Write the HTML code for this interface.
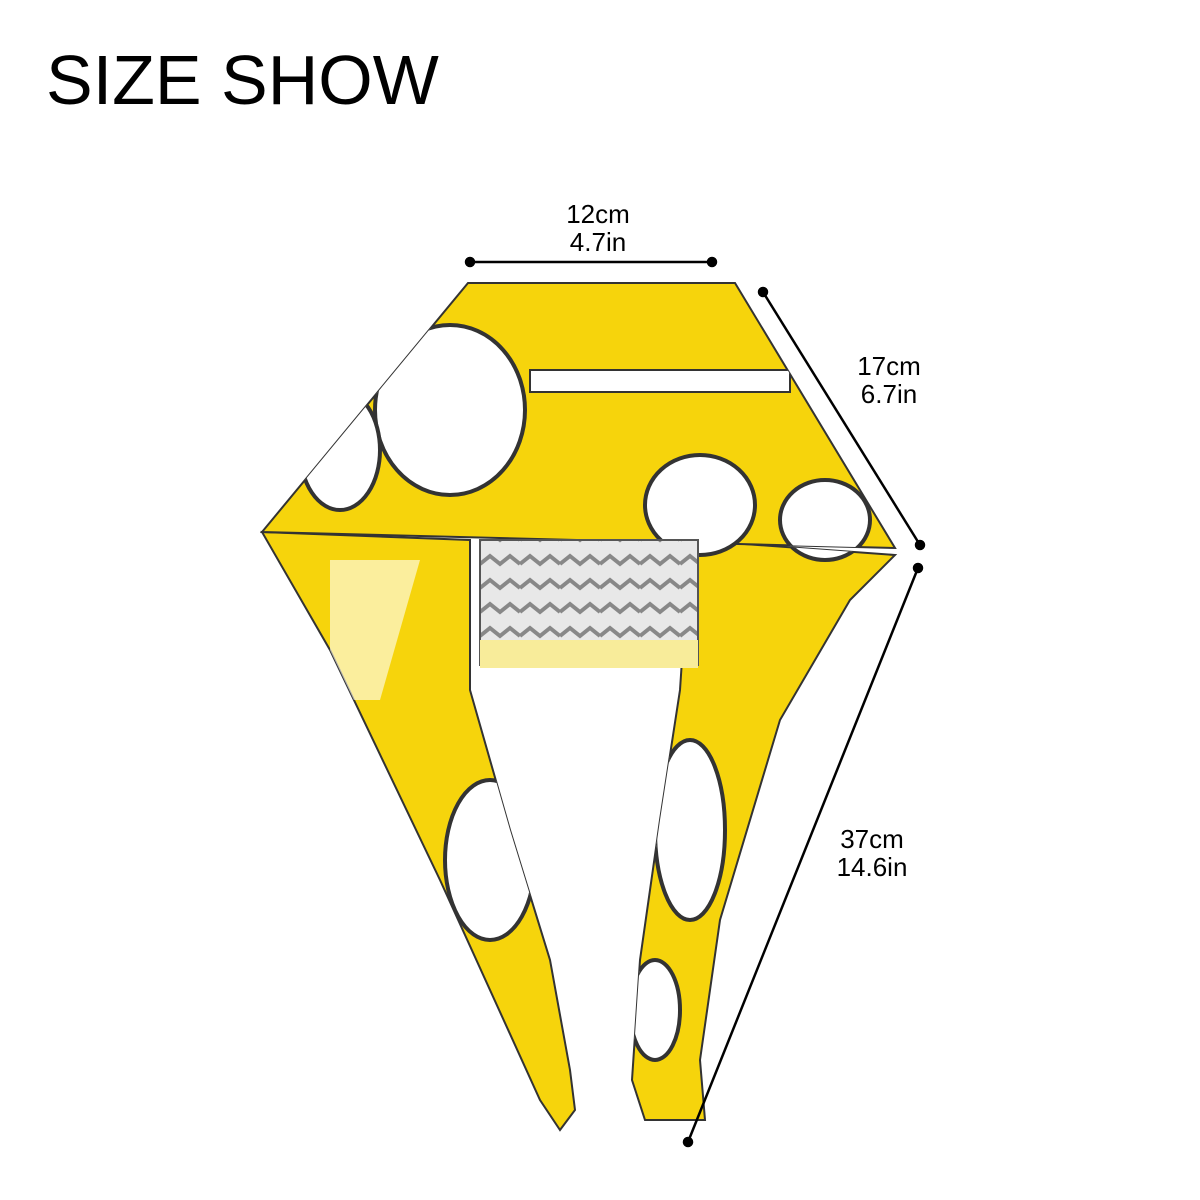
<!DOCTYPE html>
<html><head><meta charset="utf-8"><style>
html,body{margin:0;padding:0;background:#fff;}
body{width:1200px;height:1200px;position:relative;overflow:hidden;font-family:"Liberation Sans",Arial,sans-serif;}
.t{position:absolute;color:#000;}
</style></head><body>
<div class="t" style="left:46px;top:40px;font-size:70px;line-height:80px;">SIZE SHOW</div>
<svg width="1200" height="1200" style="position:absolute;left:0;top:0">
<defs>
<pattern id="zz" width="40" height="24" patternUnits="userSpaceOnUse">
<rect width="40" height="24" fill="#e8e8e8"/>
<polyline points="0,12 10,4 20,12 30,4 40,12" fill="none" stroke="#888" stroke-width="4"/>
</pattern>
<clipPath id="c">
<polygon points="468,283 735,283 895,548 262,532"/>
<polygon points="262,532 470,540 470,690 510,830 550,960 570,1070 575,1110 560,1130 540,1100 440,880 330,650"/>
<polygon points="895,555 690,540 680,690 660,820 640,960 632,1080 645,1120 705,1120 700,1060 720,920 780,720 850,600"/>
</clipPath>
</defs>
<g stroke="#333" stroke-width="2" fill="#f6d40c">
<polygon points="262,532 470,540 470,690 510,830 550,960 570,1070 575,1110 560,1130 540,1100 440,880 330,650"/>
<polygon points="895,555 690,540 680,690 660,820 640,960 632,1080 645,1120 705,1120 700,1060 720,920 780,720 850,600"/>
<polygon points="468,283 735,283 895,548 262,532"/>
</g>
<g clip-path="url(#c)" fill="#fff" stroke="#333" stroke-width="4">
<ellipse cx="450" cy="410" rx="75" ry="85"/>
<ellipse cx="340" cy="450" rx="40" ry="60"/>
<ellipse cx="700" cy="505" rx="55" ry="50"/>
<ellipse cx="825" cy="520" rx="45" ry="40"/>
<ellipse cx="490" cy="860" rx="45" ry="80"/>
<ellipse cx="690" cy="830" rx="35" ry="90"/>
<ellipse cx="655" cy="1010" rx="25" ry="50"/>
<rect x="530" y="370" width="260" height="22" stroke-width="2"/>
<polygon points="330,560 420,560 380,700 330,700" fill="#fff" opacity="0.6" stroke="none"/>
</g>
<rect x="480" y="540" width="218" height="125" fill="url(#zz)" stroke="#555" stroke-width="2"/>
<rect x="480" y="640" width="218" height="28" fill="#f8ec9a"/>
<g stroke="#000" stroke-width="2.5" fill="#000">
<line x1="470" y1="262" x2="712" y2="262"/>
<circle cx="470" cy="262" r="4"/><circle cx="712" cy="262" r="4"/>
<line x1="763" y1="292" x2="920" y2="545"/>
<circle cx="763" cy="292" r="4"/><circle cx="920" cy="545" r="4"/>
<line x1="918" y1="568" x2="688" y2="1142"/>
<circle cx="918" cy="568" r="4"/><circle cx="688" cy="1142" r="4"/>
</g>
</svg>
<div class="t" style="left:558px;top:200px;font-size:26px;line-height:28px;text-align:center;width:80px;">12cm<br>4.7in</div>
<div class="t" style="left:848px;top:352px;font-size:26px;line-height:28px;text-align:center;width:82px;">17cm<br>6.7in</div>
<div class="t" style="left:826px;top:825px;font-size:26px;line-height:28px;text-align:center;width:92px;">37cm<br>14.6in</div>
</body></html>
